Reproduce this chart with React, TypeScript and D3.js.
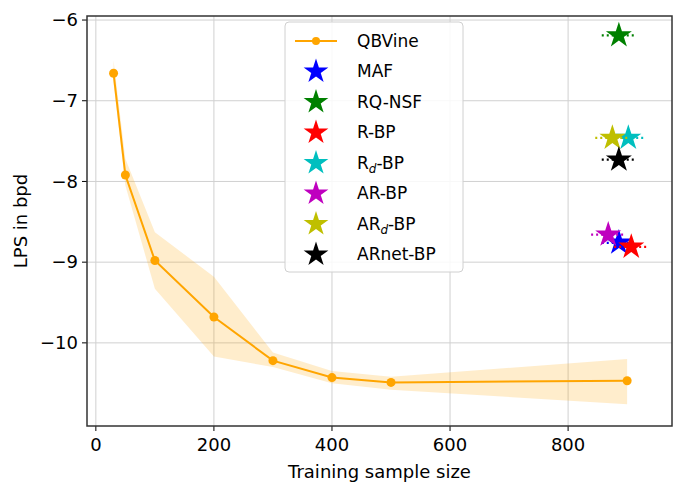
import * as d3 from "d3";

const W = 680;
const H = 486;
const M = { top: 16, right: 8, bottom: 60, left: 87 };

const sizes = [30, 50, 100, 200, 300, 400, 500, 900];
const lps = [-6.66, -7.92, -8.98, -9.68, -10.22, -10.43, -10.49, -10.47];
const bandLo = [-6.78, -8.05, -9.33, -10.17, -10.3, -10.5, -10.58, -10.76];
const bandHi = [-6.5, -7.72, -8.63, -9.18, -10.12, -10.35, -10.42, -10.2];

const starNames = ["MAF", "RQ-NSF", "R-BP", "Rd-BP", "AR-BP", "ARd-BP", "ARnet-BP"];
const starColors = ["#0000ff", "#008000", "#ff0000", "#00bfbf", "#bf00bf", "#bfbf00", "#000000"];
const starX = [886, 886, 907, 902, 868, 875, 886];
const starY = [-8.76, -6.19, -8.81, -7.46, -8.66, -7.46, -7.73];

const xTicks = [0, 200, 400, 600, 800];
const yTicks = [-10, -9, -8, -7, -6];

const ORANGE = "#ffa500";

export default function App() {
  const iw = W - M.left - M.right;
  const ih = H - M.top - M.bottom;
  const x = d3.scaleLinear().domain([-15, 976]).range([0, iw]);
  const y = d3.scaleLinear().domain([-11.03, -5.95]).range([ih, 0]);
  const idx = d3.range(sizes.length);

  const area = d3
    .area<number>()
    .x((i) => x(sizes[i]))
    .y0((i) => y(bandLo[i]))
    .y1((i) => y(bandHi[i]));
  const line = d3
    .line<number>()
    .x((i) => x(sizes[i]))
    .y((i) => y(lps[i]));
  const star = d3.symbol(d3.symbolStar, 210)() ?? "";
  const starSmall = d3.symbol(d3.symbolStar, 190)() ?? "";

  const font = "DejaVu Sans, sans-serif";
  const legendLabel = (name: string) => {
    const m = name.match(/^(R|AR)d-BP$/);
    if (!m) return name;
    return (
      <>
        {m[1]}
        <tspan fontStyle="italic" fontSize={12} dy={4}>d</tspan>
        <tspan dy={-4}>-BP</tspan>
      </>
    );
  };

  const legendItems = ["QBVine", ...starNames];
  const lx = 285;
  const ly = 22;

  return (
    <svg width={W} height={H} style={{ position: "absolute", left: 0, top: 0 }} fontFamily={font}>
      <rect width={W} height={H} fill="#fff" />
      <g transform={`translate(${M.left},${M.top})`}>
        {xTicks.map((t) => (
          <g key={t}>
            <line x1={x(t)} x2={x(t)} y1={0} y2={ih} stroke="#d0d0d0" strokeWidth={1} />
            <line x1={x(t)} x2={x(t)} y1={ih} y2={ih + 5} stroke="#000" />
            <text x={x(t)} y={ih + 25} textAnchor="middle" fontSize={18}>{t}</text>
          </g>
        ))}
        {yTicks.map((t) => (
          <g key={t}>
            <line x1={0} x2={iw} y1={y(t)} y2={y(t)} stroke="#d0d0d0" strokeWidth={1} />
            <line x1={-5} x2={0} y1={y(t)} y2={y(t)} stroke="#000" />
            <text x={-9} y={y(t)} dy="0.35em" textAnchor="end" fontSize={18}>{`\u2212${-t}`}</text>
          </g>
        ))}
        <path d={area(idx) ?? ""} fill={ORANGE} fillOpacity={0.2} />
        <path d={line(idx) ?? ""} fill="none" stroke={ORANGE} strokeWidth={2} />
        {idx.map((i) => (
          <circle key={i} cx={x(sizes[i])} cy={y(lps[i])} r={4.5} fill={ORANGE} />
        ))}
        {starNames.map((n, i) => (
          <g key={n}>
            <line
              x1={x(starX[i] - 29)}
              x2={x(starX[i] + 29)}
              y1={y(starY[i])}
              y2={y(starY[i])}
              stroke={starColors[i]}
              strokeWidth={2.2}
              strokeDasharray="2,3"
            />
            <path d={star} transform={`translate(${x(starX[i])},${y(starY[i])})`} fill={starColors[i]} />
          </g>
        ))}
        <rect x={0} y={0} width={iw} height={ih} fill="none" stroke="#333" strokeWidth={1.5} />
        <text x={iw / 2} y={ih + 52} textAnchor="middle" fontSize={18}>Training sample size</text>
        <text transform={`translate(${-60},${ih / 2}) rotate(-90)`} textAnchor="middle" fontSize={18}>LPS in bpd</text>
      </g>
      <g transform={`translate(${lx},${ly})`}>
        <rect width={178} height={250} rx={4} fill="#fff" fillOpacity={0.85} stroke="#d0d0d0" />
        {legendItems.map((n, i) => {
          const cy = 19 + i * 30.5;
          return (
            <g key={n} transform={`translate(0,${cy})`}>
              {i === 0 ? (
                <>
                  <line x1={10} x2={52} y1={0} y2={0} stroke={ORANGE} strokeWidth={2} />
                  <circle cx={31} cy={0} r={4} fill={ORANGE} />
                </>
              ) : (
                <path d={starSmall} transform="translate(31,0)" fill={starColors[i - 1]} />
              )}
              <text x={72} dy="0.35em" fontSize={17}>{legendLabel(n)}</text>
            </g>
          );
        })}
      </g>
    </svg>
  );
}
